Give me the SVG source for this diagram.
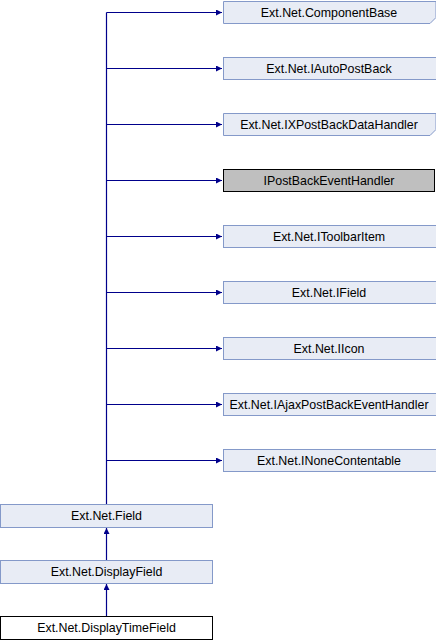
<svg xmlns="http://www.w3.org/2000/svg" width="436" height="640" viewBox="0 0 436 640">
  <style>
    .node rect, .node path { fill: #e8ecf5; stroke: #8499c9; stroke-width: 1; }
    .node.focus rect { fill: #ffffff; stroke: #000000; }
    .node.ext rect { fill: #bfbfbf; stroke: #000000; }
    .node text { font-family: "Liberation Sans", Arial, sans-serif; font-size: 12.4px; fill: #000000; text-anchor: middle; }
    .edges path { fill: none; stroke: #00008b; stroke-width: 1.2; }
  </style>
  <defs>
    <marker id="arrow" viewBox="0 0 10 10" refX="10" refY="5" markerWidth="6" markerHeight="6" orient="auto" markerUnits="userSpaceOnUse">
      <path d="M0,0 L10,5 L0,10 z" fill="#00008b"/>
    </marker>
  </defs>

  <g class="edges">
    <!-- trunk from Ext.Net.Field up to the interfaces -->
    <path d="M106.5,504 V12.5"/>
    <path d="M106.5,12.5 H222" marker-end="url(#arrow)"/>
    <path d="M106.5,68.5 H222" marker-end="url(#arrow)"/>
    <path d="M106.5,124.5 H222" marker-end="url(#arrow)"/>
    <path d="M106.5,180.5 H222" marker-end="url(#arrow)"/>
    <path d="M106.5,236.5 H222" marker-end="url(#arrow)"/>
    <path d="M106.5,292.5 H222" marker-end="url(#arrow)"/>
    <path d="M106.5,348.5 H222" marker-end="url(#arrow)"/>
    <path d="M106.5,404.5 H222" marker-end="url(#arrow)"/>
    <path d="M106.5,460.5 H222" marker-end="url(#arrow)"/>
    <!-- inheritance chain -->
    <path d="M106.5,560 V528" marker-end="url(#arrow)"/>
    <path d="M106.5,616 V584" marker-end="url(#arrow)"/>
  </g>

  <g id="node-componentbase" class="node">
    <path d="M223.5,1.5 H436 V17.5 L430,23.5 H223.5 Z"/>
    <text x="329" y="16.5">Ext.Net.ComponentBase</text>
  </g>
  <g id="node-iautopostback" class="node">
    <rect x="223.5" y="57.5" width="213" height="22"/>
    <text x="329" y="72.5">Ext.Net.IAutoPostBack</text>
  </g>
  <g id="node-ixpostbackdatahandler" class="node">
    <path d="M223.5,113.5 H436 V129.5 L430,135.5 H223.5 Z"/>
    <text x="329" y="128.5">Ext.Net.IXPostBackDataHandler</text>
  </g>
  <g id="node-ipostbackeventhandler" class="node ext">
    <rect x="223.5" y="169.5" width="211" height="22"/>
    <text x="329" y="184.5">IPostBackEventHandler</text>
  </g>
  <g id="node-itoolbaritem" class="node">
    <rect x="223.5" y="225.5" width="213" height="22"/>
    <text x="329" y="240.5">Ext.Net.IToolbarItem</text>
  </g>
  <g id="node-ifield" class="node">
    <rect x="223.5" y="281.5" width="213" height="22"/>
    <text x="329" y="296.5">Ext.Net.IField</text>
  </g>
  <g id="node-iicon" class="node">
    <rect x="223.5" y="337.5" width="213" height="22"/>
    <text x="329" y="352.5">Ext.Net.IIcon</text>
  </g>
  <g id="node-iajaxpostbackeventhandler" class="node">
    <rect x="223.5" y="393.5" width="213" height="22"/>
    <text x="329" y="408.5">Ext.Net.IAjaxPostBackEventHandler</text>
  </g>
  <g id="node-inonecontentable" class="node">
    <rect x="223.5" y="449.5" width="213" height="22"/>
    <text x="329" y="464.5">Ext.Net.INoneContentable</text>
  </g>

  <g id="node-field" class="node">
    <rect x="0.5" y="504.5" width="212" height="23"/>
    <text x="106.5" y="520">Ext.Net.Field</text>
  </g>
  <g id="node-displayfield" class="node">
    <rect x="0.5" y="560.5" width="212" height="23"/>
    <text x="106.5" y="576">Ext.Net.DisplayField</text>
  </g>
  <g id="node-displaytimefield" class="node focus">
    <rect x="0.5" y="616.5" width="212" height="23"/>
    <text x="106.5" y="632">Ext.Net.DisplayTimeField</text>
  </g>
</svg>
